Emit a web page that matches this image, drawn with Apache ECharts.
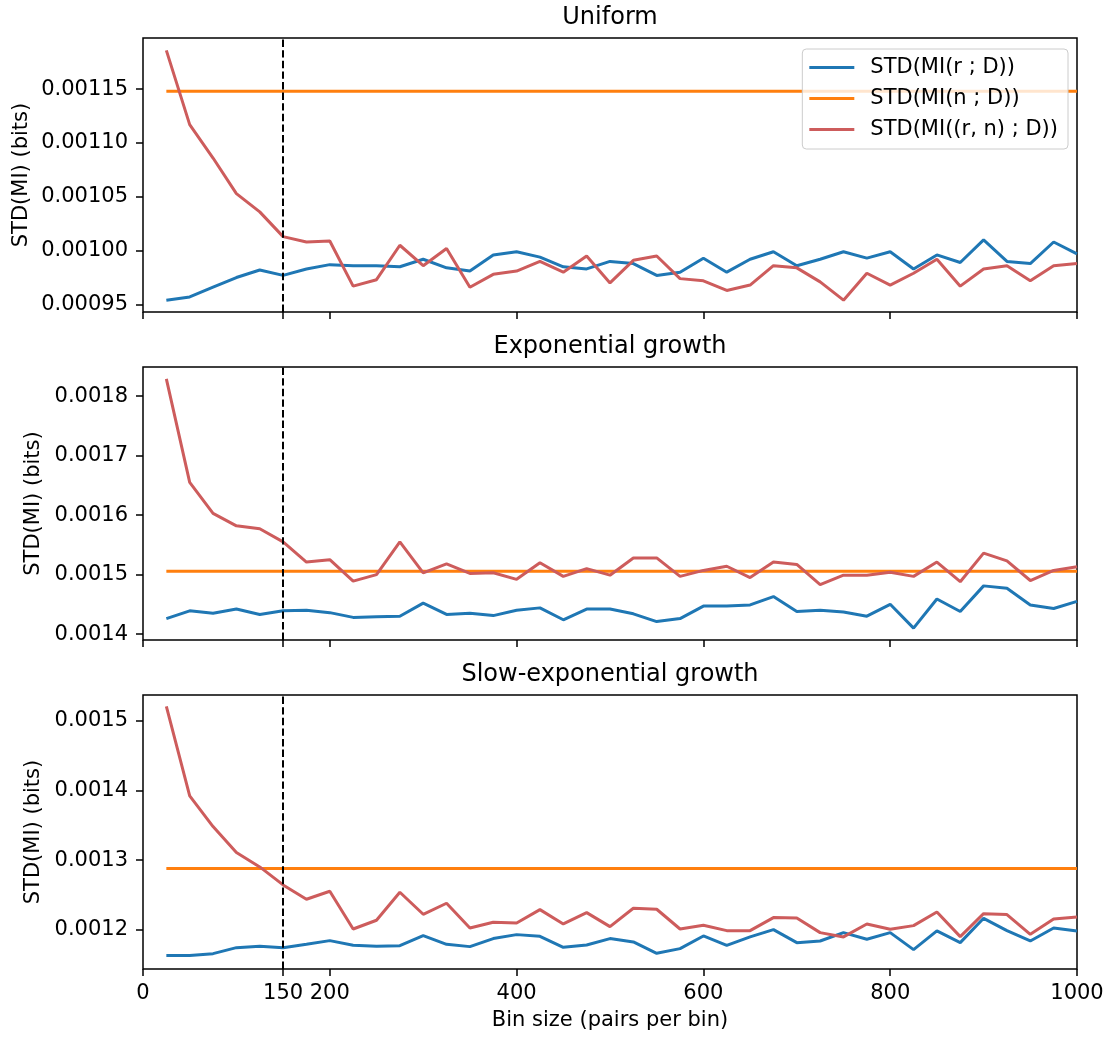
<!DOCTYPE html>
<html>
<head>
<meta charset="utf-8">
<script src="https://cdn.jsdelivr.net/npm/echarts@6/dist/echarts.min.js"></script>
<style>
html,body{margin:0;padding:0;background:#fff;}
#c{width:1112px;height:1038px;}
</style>
</head>
<body>
<div id="c"></div>
<script>
// ---- data ----
const binSizes = [25,50,75,100,125,150,175,200,225,250,275,300,325,350,375,400,425,450,475,500,
                  525,550,575,600,625,650,675,700,725,750,775,800,825,850,875,900,925,950,975,1000];
const seriesNames = ['STD(MI(r ; D))', 'STD(MI(n ; D))', 'STD(MI((r, n) ; D))'];
const panelTitles = ['Uniform', 'Exponential growth', 'Slow-exponential growth'];
const xTicks = [0,150,200,400,600,800,1000];
const cutoff = 150;

const uniformR = [0.000954,0.000957,0.000966,0.000975,0.000982,0.000977,0.000983,0.000987,0.000986,0.000986,
                  0.000985,0.000992,0.000984,0.000981,0.000996,0.000999,0.000994,0.000985,0.000983,0.000990,
                  0.000988,0.000977,0.000980,0.000993,0.000980,0.000992,0.000999,0.000986,0.000992,0.000999,
                  0.000993,0.000999,0.000983,0.000996,0.000989,0.001010,0.000990,0.000988,0.001008,0.000997];
const uniformN = 0.001148;
const uniformRN = [0.001186,0.001117,0.001086,0.001053,0.001036,0.001013,0.001008,0.001009,0.000967,0.000973,
                   0.001005,0.000986,0.001002,0.000966,0.000978,0.000981,0.000990,0.000980,0.000995,0.000970,
                   0.000991,0.000995,0.000974,0.000972,0.000963,0.000968,0.000986,0.000984,0.000971,0.000954,
                   0.000979,0.000968,0.000979,0.000992,0.000967,0.000983,0.000986,0.000972,0.000986,0.000988];
const uniformTicks = [0.00095,0.00100,0.00105,0.00110,0.00115];

const expR = [0.001426,0.001439,0.001435,0.001442,0.001433,0.001439,0.001440,0.001436,0.001428,0.001429,
              0.001430,0.001452,0.001433,0.001435,0.001431,0.001440,0.001444,0.001424,0.001442,0.001442,
              0.001434,0.001421,0.001426,0.001447,0.001447,0.001449,0.001463,0.001438,0.001440,0.001437,
              0.001430,0.001450,0.001410,0.001459,0.001438,0.001481,0.001477,0.001449,0.001443,0.001455];
const expN = 0.0015055;
const expRN = [0.001829,0.001655,0.001603,0.001582,0.001577,0.001555,0.001521,0.001525,0.001489,0.001500,
               0.001555,0.001503,0.001518,0.001502,0.001503,0.001492,0.001520,0.001497,0.001510,0.001499,
               0.001528,0.001528,0.001497,0.001507,0.001514,0.001495,0.001521,0.001517,0.001483,0.001499,
               0.001499,0.001504,0.001497,0.001521,0.001488,0.001536,0.001523,0.001490,0.001507,0.001513];
const expTicks = [0.0014,0.0015,0.0016,0.0017,0.0018];

const slowR = [0.0011632,0.0011632,0.0011660,0.0011746,0.0011766,0.0011746,0.0011794,0.0011847,0.0011780,0.0011766,
               0.0011775,0.0011919,0.0011794,0.0011761,0.0011876,0.0011933,0.0011909,0.0011751,0.0011785,0.0011876,
               0.0011828,0.0011665,0.0011732,0.0011914,0.0011780,0.0011900,0.0012005,0.0011818,0.0011842,0.0011962,
               0.0011866,0.0011962,0.0011718,0.0011986,0.0011818,0.0012167,0.0011990,0.0011842,0.0012029,0.0011986];
const slowN = 0.001288;
const slowRN = [0.0015206,0.0013923,0.0013483,0.0013110,0.0012904,0.0012646,0.0012440,0.0012555,0.0012014,0.0012139,
                0.0012541,0.0012225,0.0012383,0.0012029,0.0012110,0.0012100,0.0012292,0.0012086,0.0012249,0.0012048,
                0.0012311,0.0012297,0.0012014,0.0012067,0.0011990,0.0011990,0.0012177,0.0012172,0.0011962,0.0011900,
                0.0012086,0.0012010,0.0012062,0.0012258,0.0011904,0.0012234,0.0012220,0.0011938,0.0012158,0.0012187];
const slowTicks = [0.0012,0.0013,0.0014,0.0015];

const yRanges = [[0.000943, 0.0011975], [0.001390, 0.001849], [0.001144, 0.001537]];
const yDecimals = [5, 4, 4];

// ---- chart ----
const FONT = 'DejaVu Sans';
const FS = 21;
const colors = ['#1f77b4', '#ff7f0e', '#cd5c5c'];
const panels = [
  {r: uniformR, n: uniformN, rn: uniformRN, ticks: uniformTicks},
  {r: expR, n: expN, rn: expRN, ticks: expTicks},
  {r: slowR, n: slowN, rn: slowRN, ticks: slowTicks}
];
const gridTops = [38, 367, 695];
const gridHeights = [274, 273, 274];
const nameGaps = [111, 99, 99];

const chart = echarts.init(document.getElementById('c'), null, {renderer: 'canvas'});

const grids = [], xAxes = [], yAxes = [], series = [], titles = [];
panels.forEach((p, i) => {
  grids.push({left: 143, right: 35, top: gridTops[i], height: gridHeights[i],
              show: true, borderColor: '#000', borderWidth: 1.5, backgroundColor: 'transparent'});
  titles.push({text: panelTitles[i], left: 610, top: gridTops[i] - 32, textAlign: 'center', padding: 0,
               textStyle: {fontFamily: FONT, fontSize: 24, fontWeight: 'normal', color: '#000'}});
  xAxes.push({
    type: 'value', gridIndex: i, min: 0, max: 1000,
    axisLine: {show: false},
    splitLine: {show: false},
    axisTick: {show: true, customValues: xTicks, length: 7, lineStyle: {color: '#000', width: 1.5}},
    axisLabel: {show: i === 2, customValues: xTicks, margin: 14, fontFamily: FONT, fontSize: FS, color: '#000',
                formatter: v => String(v)},
    name: i === 2 ? 'Bin size (pairs per bin)' : '',
    nameLocation: 'middle', nameGap: 41, nameMoveOverlap: false,
    nameTextStyle: {fontFamily: FONT, fontSize: FS, color: '#000'}
  });
  yAxes.push({
    type: 'value', gridIndex: i, min: yRanges[i][0], max: yRanges[i][1],
    axisLine: {show: false},
    splitLine: {show: false},
    axisTick: {show: true, customValues: p.ticks, length: 7, lineStyle: {color: '#000', width: 1.5}},
    axisLabel: {customValues: p.ticks, margin: 15, fontFamily: FONT, fontSize: FS, color: '#000',
                formatter: v => v.toFixed(yDecimals[i])},
    name: 'STD(MI) (bits)', nameLocation: 'middle', nameGap: nameGaps[i], nameRotate: 90,
    nameMoveOverlap: false,
    nameTextStyle: {fontFamily: FONT, fontSize: FS, color: '#000'}
  });
  const mk = (name, vals, color, z) => ({
    name, type: 'line', xAxisIndex: i, yAxisIndex: i,
    data: binSizes.map((x, k) => [x, vals[k]]),
    showSymbol: false, symbol: 'none', animation: false, z,
    lineStyle: {color, width: 3}, itemStyle: {color}
  });
  series.push(mk(seriesNames[0], p.r, colors[0], 2));
  series.push(mk(seriesNames[1], binSizes.map(() => p.n), colors[1], 3));
  const red = mk(seriesNames[2], p.rn, colors[2], 4);
  red.markLine = {
    silent: true, symbol: ['none', 'none'], label: {show: false}, animation: false,
    lineStyle: {color: '#000', width: 2, type: [7.4, 3.2]},
    data: [{xAxis: cutoff}]
  };
  series.push(red);
});

chart.setOption({
  animation: false,
  backgroundColor: '#fff',
  textStyle: {fontFamily: FONT},
  title: titles,
  legend: {
    data: seriesNames, orient: 'vertical', right: 44, top: 49,
    icon: 'rect', itemWidth: 45, itemHeight: 3, itemGap: 10,
    padding: [8, 10, 9, 7],
    backgroundColor: 'rgba(255,255,255,0.8)', borderColor: '#cccccc', borderWidth: 1, borderRadius: 4,
    textStyle: {fontFamily: FONT, fontSize: FS, color: '#000', lineHeight: 20, padding: [0, 0, 0, 11]},
    selectedMode: false
  },
  grid: grids, xAxis: xAxes, yAxis: yAxes, series
});
</script>
</body>
</html>
